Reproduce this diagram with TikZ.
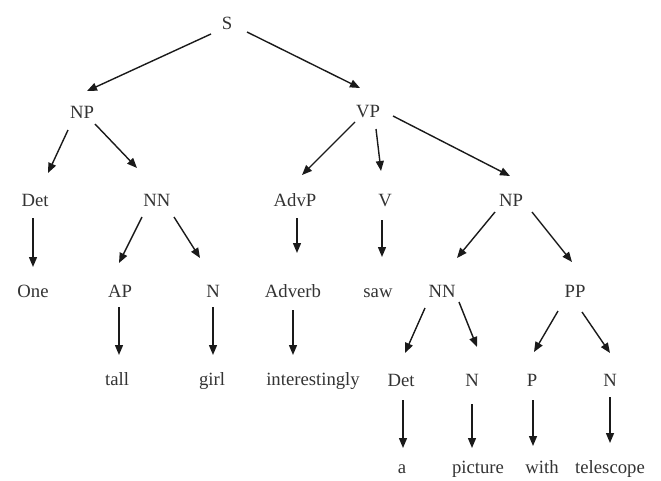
\documentclass[tikz,border=0pt]{standalone}
\usepackage{fontspec}
\setmainfont{Liberation Serif}
\usetikzlibrary{arrows.meta,calc}
\definecolor{txt}{HTML}{333333}
\definecolor{ln}{HTML}{1A1A1A}
\tikzset{
  lab/.style={anchor=base,inner sep=0pt,font=\fontsize{18.7}{20}\selectfont,text=txt},
  arr/.style={draw=ln,line width=1.4pt,-{Triangle[length=10pt,width=8pt]}}
}
\begin{document}
\begin{tikzpicture}[x=1pt,y=-1pt]
\useasboundingbox (0,0) rectangle (661,480);
% row 1
\node[lab] (S) at (227,29) {S};
% row 2
\node[lab] (NPa) at (82,118) {NP};
\node[lab] (VP) at (368,117) {VP};
% row 3
\node[lab] (Deta) at (35,206) {Det};
\node[lab] (NNa) at (157,206) {NN};
\node[lab] (AdvP) at (295,206) {AdvP};
\node[lab] (V) at (385,206) {V};
\node[lab] (NPb) at (511,206) {NP};
% row 4
\node[lab] (One) at (33,297) {One};
\node[lab] (AP) at (120,297) {AP};
\node[lab] (Na) at (213,297) {N};
\node[lab] (Adverb) at (293,297) {Adverb};
\node[lab] (saw) at (378,297) {saw};
\node[lab] (NNb) at (442,297) {NN};
\node[lab] (PP) at (575,297) {PP};
% row 5
\node[lab] (tall) at (117,385) {tall};
\node[lab] (girl) at (212,385) {girl};
\node[lab] (inter) at (313,385) {interestingly};
\node[lab] (Detb) at (401,386) {Det};
\node[lab] (Nb) at (472,386) {N};
\node[lab] (P) at (532,386) {P};
\node[lab] (Nc) at (610,386) {N};
% row 6
\node[lab] (a) at (402,473) {a};
\node[lab] (picture) at (478,473) {picture};
\node[lab] (with) at (542,473) {with};
\node[lab] (telescope) at (610,473) {telescope};
% connectors
\draw[arr] ($(S.base)+(-16,5)$) -- ($(NPa.base)+(5,-27)$);
\draw[arr] ($(S.base)+(20,3)$) -- ($(VP.base)+(-8,-29)$);
\draw[arr] ($(NPa.base)+(-14,12)$) -- ($(Deta.base)+(13,-33)$);
\draw[arr] ($(NPa.base)+(13,6)$) -- ($(NNa.base)+(-20,-38)$);
\draw[arr] ($(VP.base)+(-13,5)$) -- ($(AdvP.base)+(7,-31)$);
\draw[arr] ($(VP.base)+(8,12)$) -- ($(V.base)+(-4,-35)$);
\draw[arr] ($(VP.base)+(25,-1)$) -- ($(NPb.base)+(-1,-30)$);
\draw[arr] ($(Deta.base)+(-2,12)$) -- ($(One.base)+(0,-30)$);
\draw[arr] ($(NNa.base)+(-15,11)$) -- ($(AP.base)+(-1,-34)$);
\draw[arr] ($(NNa.base)+(17,11)$) -- ($(Na.base)+(-13,-39)$);
\draw[arr] ($(AdvP.base)+(2,12)$) -- ($(Adverb.base)+(4,-44)$);
\draw[arr] ($(V.base)+(-3,14)$) -- ($(saw.base)+(4,-40)$);
\draw[arr] ($(NPb.base)+(-16,6)$) -- ($(NNb.base)+(15,-39)$);
\draw[arr] ($(NPb.base)+(21,6)$) -- ($(PP.base)+(-3,-35)$);
\draw[arr] ($(AP.base)+(-1,10)$) -- ($(tall.base)+(2,-30)$);
\draw[arr] ($(Na.base)+(0,10)$) -- ($(girl.base)+(1,-30)$);
\draw[arr] ($(Adverb.base)+(0,13)$) -- ($(inter.base)+(-20,-30)$);
\draw[arr] ($(NNb.base)+(-17,11)$) -- ($(Detb.base)+(4,-33)$);
\draw[arr] ($(NNb.base)+(17,5)$) -- ($(Nb.base)+(5,-39)$);
\draw[arr] ($(PP.base)+(-17,14)$) -- ($(P.base)+(2,-34)$);
\draw[arr] ($(PP.base)+(7,15)$) -- ($(Nc.base)+(0,-33)$);
\draw[arr] ($(Detb.base)+(2,14)$) -- ($(a.base)+(1,-25)$);
\draw[arr] ($(Nb.base)+(0,18)$) -- ($(picture.base)+(-6,-25)$);
\draw[arr] ($(P.base)+(1,14)$) -- ($(with.base)+(-9,-27)$);
\draw[arr] ($(Nc.base)+(0,11)$) -- ($(telescope.base)+(0,-30)$);
\end{tikzpicture}
\end{document}
